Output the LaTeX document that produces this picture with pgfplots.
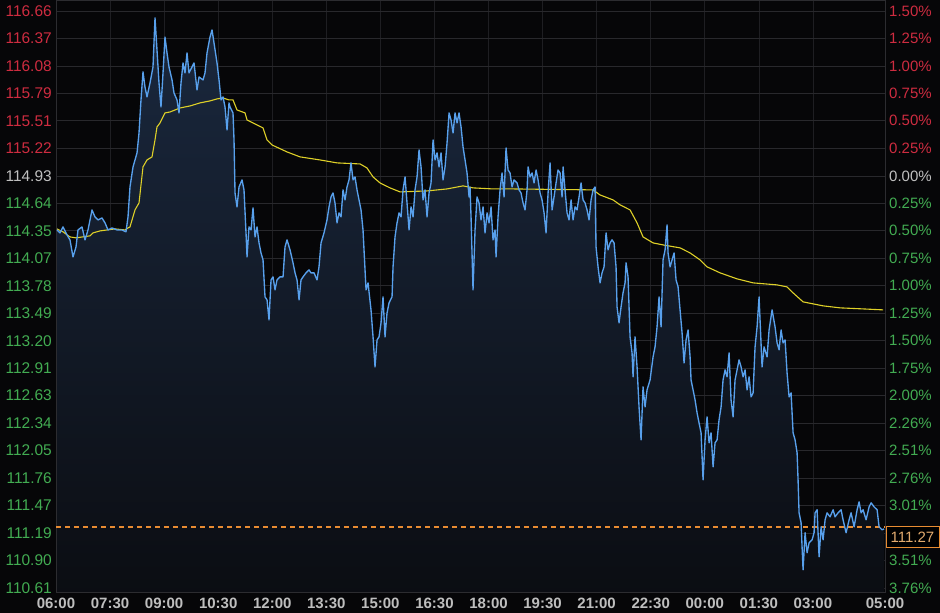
\documentclass[border=0pt]{standalone}
\usepackage{pgfplots}
\pgfplotsset{compat=1.18}
\usepackage{pgfplotstable}
\usepackage{fontspec}
\setmainfont{Liberation Sans}
\definecolor{bgc}{RGB}{6,6,8}
\definecolor{upred}{RGB}{206,44,64}
\definecolor{dngreen}{RGB}{66,172,82}
\definecolor{neutral}{RGB}{192,192,192}
\definecolor{pricebl}{RGB}{88,160,236}
\definecolor{maylw}{RGB}{222,208,40}
\definecolor{lastor}{RGB}{232,140,50}
\definecolor{lasttxt}{RGB}{226,170,110}
\definecolor{ygridc}{RGB}{40,40,44}
\definecolor{xgridc}{RGB}{30,30,34}
\definecolor{axc}{RGB}{44,44,48}
\definecolor{xlab}{RGB}{190,190,190}
\definecolor{filltop}{RGB}{26,40,62}
\definecolor{fillbot}{RGB}{11,13,18}
\newcommand{\gtxt}[1]{\textcolor{dngreen}{#1}}
\newcommand{\rtxt}[1]{\textcolor{upred}{#1}}
\newcommand{\ntxt}[1]{\textcolor{neutral}{#1}}

\pgfplotstableread{
h v
0.028 114.364
0.111 114.333
0.194 114.396
0.305 114.312
0.388 114.260
0.472 114.081
0.555 114.186
0.610 114.364
0.721 114.396
0.805 114.260
0.888 114.364
0.999 114.574
1.082 114.501
1.165 114.469
1.276 114.490
1.360 114.438
1.443 114.364
1.554 114.385
1.693 114.364
1.831 114.364
1.942 114.344
1.998 114.501
2.053 114.815
2.137 115.025
2.248 115.172
2.303 115.381
2.358 115.727
2.414 116.021
2.469 115.863
2.525 115.759
2.608 115.905
2.691 116.073
2.747 116.587
2.802 116.251
2.858 115.905
2.913 115.654
2.969 116.010
3.024 116.387
3.080 116.220
3.135 116.073
3.219 115.937
3.274 115.800
3.357 115.727
3.413 115.591
3.468 115.905
3.524 116.115
3.579 116.010
3.635 116.220
3.690 116.010
3.774 116.073
3.829 116.115
3.912 115.832
3.968 115.968
4.079 115.937
4.134 116.010
4.190 116.220
4.273 116.387
4.329 116.461
4.384 116.325
4.467 116.115
4.523 115.937
4.578 115.727
4.634 115.759
4.689 115.654
4.745 115.413
4.800 115.696
4.828 115.654
4.911 115.591
4.939 115.308
4.967 114.752
5.022 114.606
5.078 114.815
5.161 114.889
5.216 114.784
5.272 114.333
5.300 114.081
5.355 114.396
5.411 114.364
5.466 114.595
5.522 114.291
5.577 114.396
5.633 114.228
5.688 114.123
5.744 114.050
5.799 113.662
5.855 113.631
5.910 113.421
5.966 113.840
6.021 113.872
6.077 113.736
6.132 113.840
6.215 113.872
6.299 113.872
6.354 114.186
6.410 114.260
6.493 114.155
6.576 114.019
6.632 113.914
6.687 113.840
6.743 113.631
6.798 113.840
6.854 113.872
6.937 113.914
7.020 113.945
7.075 113.914
7.159 113.914
7.242 113.840
7.297 113.977
7.353 114.228
7.436 114.333
7.519 114.469
7.575 114.606
7.630 114.710
7.686 114.752
7.741 114.647
7.797 114.438
7.852 114.543
7.908 114.501
7.963 114.784
8.019 114.679
8.074 114.815
8.130 114.889
8.185 115.067
8.241 114.889
8.296 114.920
8.352 114.784
8.407 114.679
8.463 114.574
8.518 114.364
8.602 113.736
8.657 113.809
8.740 113.526
8.796 113.243
8.851 112.928
8.907 113.211
8.962 113.243
9.018 113.390
9.073 113.662
9.129 113.243
9.184 113.494
9.240 113.599
9.323 113.662
9.351 113.977
9.406 114.291
9.462 114.438
9.517 114.543
9.573 114.501
9.628 114.784
9.684 114.920
9.739 114.647
9.795 114.364
9.850 114.606
9.906 114.501
9.961 114.784
10.017 114.920
10.072 115.203
10.128 115.025
10.183 114.679
10.239 114.784
10.294 114.501
10.350 114.752
10.405 114.857
10.461 115.308
10.516 115.098
10.572 115.172
10.627 115.025
10.683 115.172
10.738 114.889
10.794 115.025
10.849 115.276
10.905 115.591
10.960 115.517
11.016 115.381
11.071 115.591
11.127 115.486
11.182 115.591
11.238 115.444
11.293 115.234
11.349 115.098
11.404 114.962
11.460 114.710
11.487 114.815
11.515 114.501
11.570 113.736
11.626 114.364
11.681 114.710
11.737 114.647
11.792 114.469
11.848 114.606
11.903 114.333
11.959 114.543
12.014 114.438
12.070 114.606
12.125 114.260
12.181 114.364
12.209 114.081
12.264 114.501
12.320 114.784
12.375 114.962
12.431 114.710
12.486 115.224
12.542 114.993
12.597 114.962
12.653 114.815
12.708 114.889
12.791 114.857
12.847 114.784
12.902 114.752
12.958 114.647
13.013 114.574
13.069 114.784
13.097 115.025
13.152 114.920
13.208 114.962
13.263 114.857
13.319 114.993
13.374 114.889
13.430 114.752
13.485 114.679
13.541 114.543
13.596 114.333
13.652 114.752
13.707 115.067
13.763 114.574
13.818 114.710
13.874 114.857
13.929 114.993
13.985 114.962
14.040 114.710
14.068 115.025
14.123 114.784
14.179 114.543
14.234 114.469
14.290 114.679
14.345 114.469
14.401 114.606
14.456 114.574
14.512 114.710
14.567 114.857
14.623 114.679
14.678 114.647
14.734 114.574
14.789 114.469
14.845 114.679
14.900 114.784
14.956 114.815
14.983 114.186
15.039 113.977
15.094 113.809
15.150 113.914
15.205 113.977
15.261 114.333
15.316 114.155
15.372 114.228
15.427 114.260
15.483 114.228
15.538 113.977
15.566 113.557
15.621 113.390
15.677 113.557
15.732 113.704
15.788 113.809
15.816 114.019
15.871 113.872
15.927 113.243
15.982 113.075
16.010 112.824
16.065 113.243
16.121 112.928
16.176 112.509
16.232 112.163
16.287 112.719
16.343 112.509
16.398 112.687
16.482 112.792
16.565 113.033
16.620 113.138
16.676 113.348
16.731 113.662
16.787 113.348
16.842 114.050
16.898 114.155
16.953 114.417
16.981 114.123
17.037 113.977
17.092 114.050
17.148 114.123
17.203 113.840
17.259 113.767
17.314 113.526
17.370 113.285
17.425 112.970
17.481 113.211
17.536 113.316
17.592 113.033
17.619 112.792
17.675 112.687
17.730 112.583
17.786 112.446
17.841 112.341
17.897 112.237
17.952 111.744
18.008 112.163
18.063 112.404
18.119 112.132
18.174 112.237
18.230 111.880
18.285 112.132
18.341 112.163
18.396 112.373
18.452 112.509
18.507 112.792
18.563 112.897
18.618 112.824
18.674 113.075
18.729 112.583
18.785 112.404
18.840 112.792
18.896 112.897
18.951 113.002
19.007 112.928
19.062 112.824
19.118 112.897
19.173 112.687
19.229 112.824
19.284 112.614
19.340 112.656
19.395 113.138
19.451 113.348
19.506 113.662
19.589 112.928
19.645 113.138
19.728 113.033
19.784 113.316
19.867 113.526
19.950 113.348
20.006 113.180
20.061 113.107
20.117 113.316
20.172 113.180
20.228 113.211
20.283 112.866
20.339 112.614
20.394 112.656
20.450 112.237
20.505 112.163
20.561 112.027
20.588 111.744
20.616 111.398
20.672 111.293
20.699 111.042
20.727 110.801
20.783 111.189
20.838 110.979
20.894 111.084
20.977 111.115
21.032 111.189
21.060 111.398
21.116 111.430
21.171 110.937
21.227 111.251
21.282 111.115
21.338 111.325
21.393 111.398
21.476 111.356
21.560 111.430
21.615 111.356
21.698 111.398
21.782 111.430
21.837 111.325
21.920 111.189
22.004 111.325
22.059 111.398
22.143 111.251
22.226 111.430
22.281 111.513
22.337 111.398
22.392 111.430
22.475 111.325
22.559 111.461
22.614 111.503
22.697 111.461
22.781 111.430
22.836 111.251
22.919 111.220
22.975 111.230
}\pricedata

\pgfplotstableread{
h v
0.028 114.375
0.194 114.344
0.388 114.291
0.555 114.281
0.943 114.302
1.027 114.333
1.221 114.354
1.637 114.375
1.915 114.364
1.998 114.385
2.053 114.396
2.192 114.574
2.303 114.647
2.414 115.025
2.525 115.098
2.664 115.130
2.747 115.308
2.802 115.444
2.886 115.486
3.024 115.591
3.163 115.601
3.441 115.643
3.718 115.664
3.996 115.696
4.273 115.717
4.467 115.738
4.634 115.748
4.800 115.727
4.911 115.727
5.022 115.622
5.244 115.591
5.300 115.517
5.744 115.434
5.855 115.308
5.993 115.255
6.410 115.182
6.770 115.130
7.325 115.098
7.797 115.067
8.435 115.056
8.629 115.014
8.796 114.920
8.990 114.857
9.267 114.805
9.545 114.763
10.294 114.773
10.849 114.794
11.293 114.826
11.570 114.805
12.125 114.794
12.681 114.794
14.900 114.784
15.094 114.731
15.455 114.679
15.649 114.627
15.927 114.574
16.121 114.438
16.287 114.291
16.565 114.228
16.842 114.207
17.314 114.176
17.592 114.123
17.869 114.050
18.063 113.977
18.424 113.914
18.896 113.851
19.340 113.809
20.006 113.788
20.283 113.767
20.450 113.704
20.727 113.610
21.282 113.568
21.754 113.547
22.392 113.536
22.947 113.526
}\madata

\begin{document}
\begin{tikzpicture}[x=1pt,y=1pt]
\useasboundingbox (0,0) rectangle (940,613);
\fill[bgc] (0,0) rectangle (940,613);
\begin{axis}[
  at={(56pt,21pt)}, anchor=south west,
  width=829pt, height=592pt, scale only axis,
  xmin=0, xmax=23, ymin=110.568, ymax=116.775,
  axis line style={draw=axc, line width=0.8pt},
  tick style={draw=none},
  grid=major,
  x grid style={draw=xgridc, line width=0.7pt},
  y grid style={draw=ygridc, line width=0.7pt},
  /pgf/number format/assume math mode=true,
  xtick={0,1.5,3,4.5,6,7.5,9,10.5,12,13.5,15,16.5,18,19.5,21,23},
  xticklabels={06:00,07:30,09:00,10:30,12:00,13:30,15:00,16:30,18:00,19:30,21:00,22:30,00:00,01:30,03:00,05:00},
  xticklabel style={font=\bfseries\fontsize{15}{15}\selectfont, text=xlab, anchor=north, inner sep=0pt, yshift=-6pt},
  ytick={110.61,110.898,111.186,111.474,111.762,112.05,112.339,112.627,112.915,113.203,113.491,113.779,114.067,114.355,114.643,114.931,115.22,115.508,115.796,116.084,116.372,116.66},
  yticklabels={\gtxt{110.61},\gtxt{110.90},\gtxt{111.19},\gtxt{111.47},\gtxt{111.76},\gtxt{112.05},\gtxt{112.34},\gtxt{112.63},\gtxt{112.91},\gtxt{113.20},\gtxt{113.49},\gtxt{113.78},\gtxt{114.07},\gtxt{114.35},\gtxt{114.64},\ntxt{114.93},\rtxt{115.22},\rtxt{115.51},\rtxt{115.79},\rtxt{116.08},\rtxt{116.37},\rtxt{116.66}},
  yticklabel style={font=\fontsize{15.5}{15.5}\selectfont, anchor=east, inner sep=0pt, xshift=-4pt},
]
\addplot[draw=none, top color=filltop, bottom color=fillbot] table[x=h,y=v]{\pricedata} -- (axis cs:22.975,110.5) -- (axis cs:0.028,110.5) -- cycle;
\addplot[draw=lastor, line width=1.1pt, dash pattern=on 5pt off 4pt] coordinates {(0,111.25) (23,111.25)};
\addplot[draw=maylw, line width=1.1pt] table[x=h,y=v]{\madata};
\addplot[draw=pricebl, line width=1.35pt, line join=round] table[x=h,y=v]{\pricedata};
\end{axis}
\begin{axis}[
  at={(56pt,21pt)}, anchor=south west,
  width=829pt, height=592pt, scale only axis,
  xmin=0, xmax=23, ymin=110.568, ymax=116.775,
  axis line style={draw=none},
  tick style={draw=none},
  xtick=\empty,
  yticklabel pos=right,
  ytick={110.61,110.898,111.474,111.762,112.05,112.339,112.627,112.915,113.203,113.491,113.779,114.067,114.355,114.643,114.931,115.22,115.508,115.796,116.084,116.372,116.66},
  yticklabels={\gtxt{3.76\%},\gtxt{3.51\%},\gtxt{3.01\%},\gtxt{2.76\%},\gtxt{2.51\%},\gtxt{2.26\%},\gtxt{2.00\%},\gtxt{1.75\%},\gtxt{1.50\%},\gtxt{1.25\%},\gtxt{1.00\%},\gtxt{0.75\%},\gtxt{0.50\%},\gtxt{0.25\%},\ntxt{0.00\%},\rtxt{0.25\%},\rtxt{0.50\%},\rtxt{0.75\%},\rtxt{1.00\%},\rtxt{1.25\%},\rtxt{1.50\%}},
  yticklabel style={font=\fontsize{15}{15}\selectfont, anchor=west, inner sep=0pt, xshift=4pt},
]
\addplot[draw=none] coordinates {(0,112) (1,112)};
\end{axis}
\node[draw=lastor, line width=1pt, fill=black, text=lasttxt, minimum width=53pt, minimum height=21pt, inner sep=0pt, font=\fontsize{15}{15}\selectfont] at (912.5,75.5) {111.27};
\end{tikzpicture}
\end{document}
